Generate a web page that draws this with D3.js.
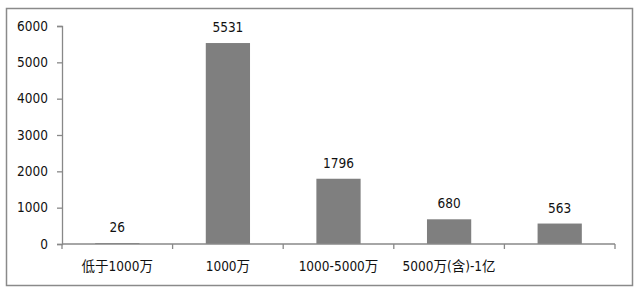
<!DOCTYPE html>
<html><head><meta charset="utf-8">
<script src="https://cdn.jsdelivr.net/npm/d3@7"></script>
<style>body{margin:0;background:#fff}svg{display:block}</style>
</head><body>
<script>
const categories = ["低于1000万", "1000万", "1000-5000万", "5000万(含)-1亿", ""];
const values = [26, 5531, 1796, 680, 563];
const yTicks = [0, 1000, 2000, 3000, 4000, 5000, 6000];

const W = 640, H = 294;
const svg = d3.select("body").append("svg").attr("width", W).attr("height", H);
const font = "'DejaVu Sans Condensed', 'DejaVu Sans', 'Noto Sans CJK SC', sans-serif";
const fs = 13.5;

svg.append("rect").attr("x", 6.5).attr("y", 8.5).attr("width", 626).attr("height", 277)
  .attr("fill", "#fff").attr("stroke", "#8a8a8a").attr("stroke-width", 1.5);

const m = {left: 62, right: 615, top: 26, bottom: 244};
const x = d3.scaleBand().domain(d3.range(categories.length)).range([m.left, m.right]).paddingInner(0.6).paddingOuter(0.3);
const xb = d3.scaleBand().domain(d3.range(categories.length)).range([m.left, m.right]);
const y = d3.scaleLinear().domain([0, 6000]).range([m.bottom, m.top]);

const yAxis = svg.append("g").attr("transform", `translate(${m.left},0)`)
  .call(d3.axisLeft(y).tickValues(yTicks).tickSize(5).tickPadding(9).tickFormat(d3.format("d")));
yAxis.selectAll("path,line").attr("stroke", "#888").attr("stroke-width", 1.3);
yAxis.selectAll("text").attr("font-family", font).attr("font-size", fs).attr("fill", "#111");

svg.append("g").selectAll("rect").data(values).join("rect")
  .attr("x", (d, i) => x(i)).attr("width", x.bandwidth())
  .attr("y", d => y(d)).attr("height", d => y(0) - y(d))
  .attr("fill", "#7f7f7f");

svg.append("g").selectAll("text").data(values).join("text")
  .attr("x", (d, i) => x(i) + x.bandwidth() / 2).attr("y", d => y(d) - 11)
  .attr("text-anchor", "middle").attr("font-family", font).attr("font-size", fs).attr("fill", "#111")
  .text(d => d);

const xg = svg.append("g").attr("transform", `translate(0,${m.bottom})`);
xg.append("line").attr("x1", m.left).attr("x2", m.right).attr("stroke", "#888").attr("stroke-width", 1.3);
const bounds = d3.range(categories.length + 1).map(i => i < categories.length ? xb(i) : m.right);
xg.selectAll("line.t").data(bounds).join("line").attr("class", "t")
  .attr("x1", d => d).attr("x2", d => d).attr("y1", 0).attr("y2", 5)
  .attr("stroke", "#888").attr("stroke-width", 1.3);
xg.selectAll("text").data(categories).join("text")
  .attr("x", (d, i) => xb(i) + xb.bandwidth() / 2).attr("y", 27)
  .attr("text-anchor", "middle").attr("font-family", font).attr("font-size", fs).attr("fill", "#111")
  .text(d => d);
</script>
</body></html>
